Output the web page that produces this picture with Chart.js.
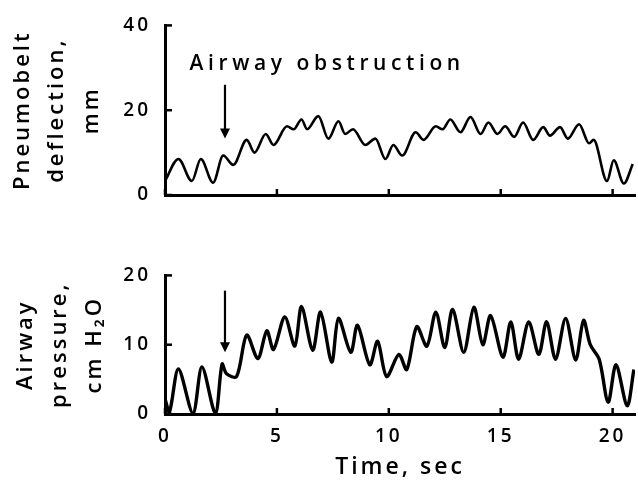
<!DOCTYPE html>
<html>
<head>
<meta charset="utf-8">
<script src="https://cdn.jsdelivr.net/npm/chart.js@4.4.1/dist/chart.umd.min.js"></script>
<style>
  body { margin: 0; background: #fff; }
  #wrap { position: relative; width: 638px; height: 482px; }
  #top-chart { position: absolute; left: 0; top: 0; }
  #bottom-chart { position: absolute; left: 0; top: 250px; }
</style>
</head>
<body>
<div id="wrap">
  <canvas id="top-chart" width="638" height="250"></canvas>
  <canvas id="bottom-chart" width="638" height="232"></canvas>
</div>
<script>
// pneumobelt trace (top panel)
var pneumoTime = [0, 0.6, 1.2, 1.6, 2.15, 2.6, 3.05, 3.65, 4.0, 4.5, 4.85, 5.45, 5.75, 6.1, 6.35,
  6.85, 7.3, 7.75, 8.05, 8.4, 8.95, 9.4, 9.85, 10.2, 10.6, 11.2, 11.55, 12.1, 12.4, 12.75,
  13.2, 13.65, 14.1, 14.45, 14.85, 15.2, 15.6, 16.0, 16.45, 16.9, 17.2, 17.65, 18.0, 18.5,
  18.95, 19.15, 19.75, 20.05, 20.5, 20.9];
var pneumoDeflection = [3.3, 8.5, 3.3, 8.5, 2.9, 9.3, 7.1, 13, 10, 14.4, 11.8, 16.2, 15.5, 17.8, 15.5,
  18.6, 13.3, 17.4, 14.4, 15.5, 11.8, 13.3, 8.5, 11.8, 9.3, 14.8, 13, 16.2, 15.5, 17.8,
  14.8, 18.4, 14.4, 17.1, 14.4, 16.2, 13.7, 17.1, 13, 16, 14, 16, 13.3, 16.7,
  12.2, 13, 3.3, 8.2, 2.7, 7.3];

// airway pressure trace (bottom panel)
var pressureTime = [0, 0.2, 0.6, 1.25, 1.65, 2.25, 2.55, 2.75, 3.2, 3.65, 4.15, 4.55, 4.85, 5.35, 5.8,
  6.1, 6.6, 6.95, 7.45, 7.75, 8.3, 8.6, 9.15, 9.5, 9.9, 10.45, 10.8, 11.25, 11.7, 12.1,
  12.5, 12.85, 13.35, 13.8, 14.2, 14.55, 15.1, 15.45, 15.8, 16.25, 16.7, 17.05, 17.45, 17.9,
  18.35, 18.7, 19.0, 19.4, 19.8, 20.15, 20.65, 20.95];
var pressureValue = [2.2, 0.3, 6.5, 0.1, 6.8, 0.1, 7.2, 5.8, 5.4, 11.4, 8, 12, 9.3, 14, 9.8,
  15.5, 9.2, 14.7, 7.5, 13.8, 8.9, 12.8, 7.1, 10.5, 5.4, 8.6, 6.4, 12.6, 9.8, 14.7,
  9.6, 15.1, 8.9, 15.4, 10, 14.2, 8.2, 13.3, 7.9, 13.3, 8.6, 13.3, 7.9, 13.8,
  7.8, 13.5, 10, 7.9, 1.7, 7.1, 1.2, 6.4];

var timeTicks = [0, 5, 10, 15, 20];
var pneumoTicks = [0, 20, 40];
var pressureTicks = [0, 10, 20];

var obstructionLabel = 'Airway obstruction';
var obstructionTime = 2.68;

Chart.defaults.font.family = "'Open Sans', 'DejaVu Sans', sans-serif";
Chart.defaults.font.weight = '600';
Chart.defaults.color = '#000';

function toPoints(xs, ys){
  return xs.map(function(x, i){ return {x: x, y: ys[i]}; });
}

var letterSpacing = {
  id: 'letterSpacing',
  beforeUpdate: function(chart){ chart.ctx.letterSpacing = '3px'; },
  beforeDraw: function(chart){ chart.ctx.letterSpacing = '3px'; }
};

// tick marks pointing into the plot, like the original
var inwardTicks = {
  id: 'inwardTicks',
  afterDraw: function(chart){
    var ctx = chart.ctx, area = chart.chartArea;
    var x = chart.scales.x, y = chart.scales.y;
    ctx.save();
    ctx.strokeStyle = '#000';
    ctx.lineWidth = 2.5;
    x.ticks.forEach(function(t){
      var px = x.getPixelForValue(t.value);
      ctx.beginPath(); ctx.moveTo(px, area.bottom); ctx.lineTo(px, area.bottom - 6); ctx.stroke();
    });
    y.ticks.forEach(function(t){
      var py = y.getPixelForValue(t.value);
      ctx.beginPath(); ctx.moveTo(area.left, py); ctx.lineTo(area.left + 7, py); ctx.stroke();
    });
    ctx.restore();
  }
};

function drawArrow(chart, t, fromV, toV){
  var ctx = chart.ctx;
  var px = chart.scales.x.getPixelForValue(t);
  var y1 = chart.scales.y.getPixelForValue(fromV);
  var y2 = chart.scales.y.getPixelForValue(toV);
  ctx.save();
  ctx.strokeStyle = '#000';
  ctx.fillStyle = '#000';
  ctx.lineWidth = 2.2;
  ctx.beginPath(); ctx.moveTo(px, y1); ctx.lineTo(px, y2 - 8); ctx.stroke();
  ctx.beginPath();
  ctx.moveTo(px - 5, y2 - 10); ctx.lineTo(px + 5, y2 - 10); ctx.lineTo(px, y2);
  ctx.closePath(); ctx.fill();
  ctx.restore();
}

var topAnnotation = {
  id: 'topAnnotation',
  afterDraw: function(chart){
    var ctx = chart.ctx;
    ctx.save();
    ctx.letterSpacing = '4.6px';
    ctx.font = "600 21px 'Open Sans', 'DejaVu Sans'";
    ctx.fillStyle = '#000';
    ctx.textBaseline = 'middle';
    ctx.fillText(obstructionLabel, chart.scales.x.getPixelForValue(1.1), chart.scales.y.getPixelForValue(30.8));
    ctx.restore();
    drawArrow(chart, obstructionTime, 26, 13.3);
  }
};

var bottomAnnotation = {
  id: 'bottomAnnotation',
  afterDraw: function(chart){
    drawArrow(chart, obstructionTime, 17.8, 8.9);
  }
};

function keepTicks(list){
  return function(scale){
    scale.ticks = list.map(function(v){ return {value: v}; });
  };
}

function createTopChart(){
  var element = document.getElementById('top-chart').getContext('2d');
  new Chart(element, {
    type: 'line',
    data: {
      datasets: [{
        data: toPoints(pneumoTime, pneumoDeflection),
        borderColor: '#000',
        borderWidth: 2.6,
        pointRadius: 0,
        cubicInterpolationMode: 'monotone',
        fill: false
      }]
    },
    options: {
      responsive: false,
      animation: false,
      layout: { padding: { left: 0, right: 3, top: 15, bottom: 0 } },
      plugins: { legend: { display: false }, tooltip: { enabled: false } },
      scales: {
        x: {
          type: 'linear', min: 0, max: 21,
          afterBuildTicks: keepTicks(timeTicks),
          afterFit: function(scale){ scale.height = 55; },
          grid: { display: false, drawTicks: false },
          border: { color: '#000', width: 3 },
          ticks: { display: false }
        },
        y: {
          min: 0, max: 40,
          afterBuildTicks: keepTicks(pneumoTicks),
          afterFit: function(scale){ scale.width = 165; },
          grid: { display: false, drawTicks: false },
          border: { color: '#000', width: 3 },
          ticks: { padding: 14, font: { size: 19 } },
          title: {
            display: true,
            text: ['Pneumobelt', 'deflection,', 'mm'],
            font: { size: 22, lineHeight: 1.55 },
            padding: { top: 6, bottom: 0 }
          }
        }
      }
    },
    plugins: [letterSpacing, inwardTicks, topAnnotation]
  });
}

function createBottomChart(){
  var element = document.getElementById('bottom-chart').getContext('2d');
  new Chart(element, {
    type: 'line',
    data: {
      datasets: [{
        data: toPoints(pressureTime, pressureValue),
        borderColor: '#000',
        borderWidth: 3.4,
        pointRadius: 0,
        tension: 0.3,
        fill: false
      }]
    },
    options: {
      responsive: false,
      animation: false,
      layout: { padding: { left: 0, right: 3, top: 20, bottom: 0 } },
      plugins: { legend: { display: false }, tooltip: { enabled: false } },
      scales: {
        x: {
          type: 'linear', min: 0, max: 21,
          afterBuildTicks: keepTicks(timeTicks),
          afterFit: function(scale){ scale.height = 68; },
          grid: { display: false, drawTicks: false },
          border: { color: '#000', width: 3 },
          ticks: { padding: 11, font: { size: 19 }, maxRotation: 0 },
          title: {
            display: true,
            text: 'Time, sec',
            font: { size: 23, lineHeight: 1.2 },
            padding: { top: 0, bottom: 1 }
          }
        },
        y: {
          min: 0, max: 20,
          afterBuildTicks: keepTicks(pressureTicks),
          afterFit: function(scale){ scale.width = 165; },
          grid: { display: false, drawTicks: false },
          border: { color: '#000', width: 3 },
          ticks: { padding: 14, font: { size: 19 } },
          title: {
            display: true,
            text: ['Airway', 'pressure,', 'cm H\u2082O'],
            font: { size: 22, lineHeight: 1.55 },
            padding: { top: 9, bottom: 0 }
          }
        }
      }
    },
    plugins: [letterSpacing, inwardTicks, bottomAnnotation]
  });
}

createTopChart();
createBottomChart();
</script>
</body>
</html>
